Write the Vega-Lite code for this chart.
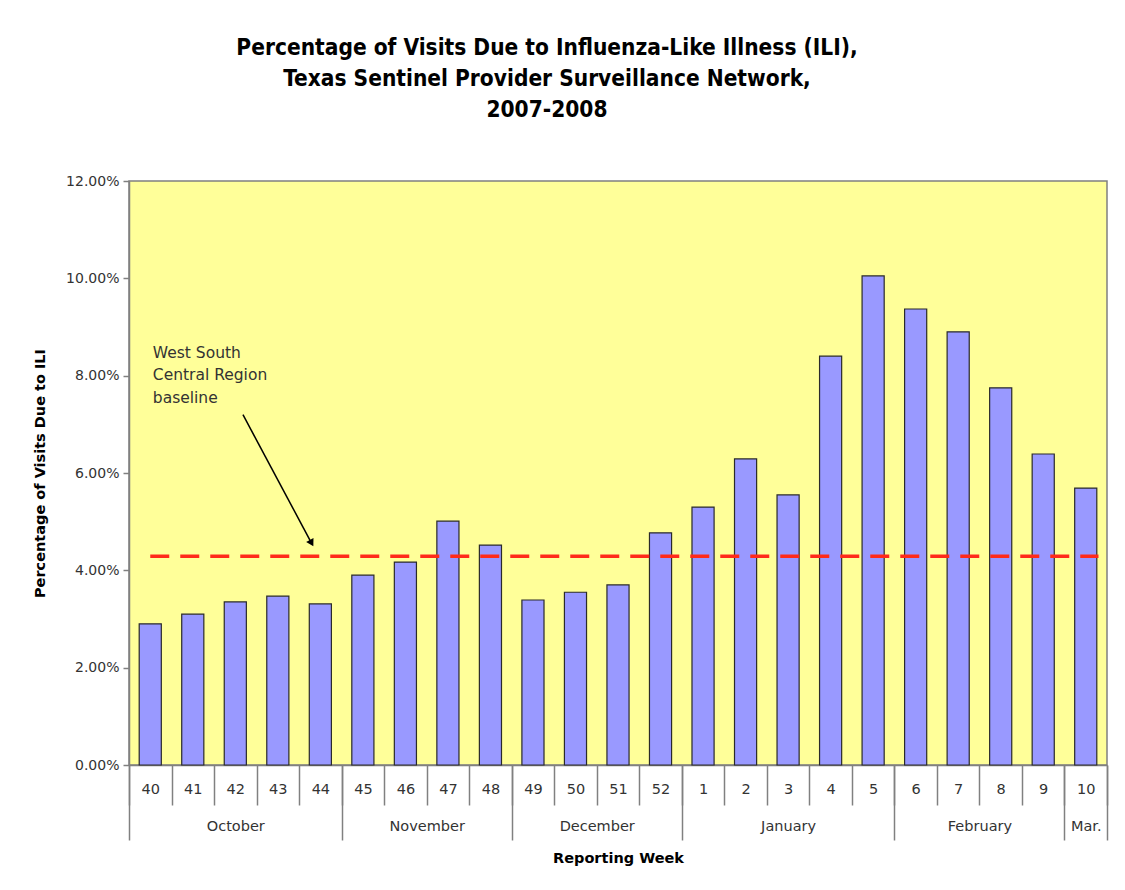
{
  "$schema": "https://vega.github.io/schema/vega-lite/v6.json",
  "width": 978,
  "height": 584,
  "autosize": {"type": "none"},
  "padding": {"left": 129, "top": 181, "right": 18, "bottom": 125},
  "background": "white",
  "title": {
    "text": ["Percentage of Visits Due to Influenza-Like Illness (ILI),", "Texas Sentinel Provider Surveillance Network,", "2007-2008"],
    "font": "DejaVu Sans Condensed",
    "fontSize": 22.5,
    "fontWeight": "bold",
    "lineHeight": 31,
    "anchor": "middle",
    "dx": -71,
    "offset": 53,
    "color": "#000000"
  },
  "config": {
    "view": {"fill": "#FFFF99", "stroke": "#808080", "strokeWidth": 1.5},
    "font": "DejaVu Sans"
  },
  "datasets": {
    "weeks": [
      {"week": "40", "ili": 2.90},
      {"week": "41", "ili": 3.10},
      {"week": "42", "ili": 3.35},
      {"week": "43", "ili": 3.47},
      {"week": "44", "ili": 3.31},
      {"week": "45", "ili": 3.90},
      {"week": "46", "ili": 4.17},
      {"week": "47", "ili": 5.01},
      {"week": "48", "ili": 4.52},
      {"week": "49", "ili": 3.39},
      {"week": "50", "ili": 3.55},
      {"week": "51", "ili": 3.70},
      {"week": "52", "ili": 4.77},
      {"week": "1", "ili": 5.30},
      {"week": "2", "ili": 6.29},
      {"week": "3", "ili": 5.55},
      {"week": "4", "ili": 8.40},
      {"week": "5", "ili": 10.05},
      {"week": "6", "ili": 9.37},
      {"week": "7", "ili": 8.90},
      {"week": "8", "ili": 7.75},
      {"week": "9", "ili": 6.39},
      {"week": "10", "ili": 5.69}
    ],
    "baseline": [
      {"name": "West South Central Region baseline", "from": 0.5, "to": 22.8, "value": 4.29}
    ],
    "note": [
      {"text": ["West South", "Central Region", "baseline"], "x": 0.56, "y": 8.47, "ax": 2.68, "ay": 7.2, "bx": 4.28, "by": 4.58}
    ]
  },
  "layer": [
    {
      "data": {"name": "weeks"},
      "mark": {"type": "bar", "fill": "#9999FF", "stroke": "#2a2a2a", "strokeWidth": 1.2, "width": {"band": 0.52}},
      "encoding": {
        "x": {
          "field": "week",
          "type": "nominal",
          "sort": null,
          "scale": {"paddingInner": 0, "paddingOuter": 0},
          "axis": {
            "orient": "bottom",
            "title": null,
            "labelAngle": 0,
            "tickBand": "extent",
            "tickSize": 40,
            "tickColor": "#808080",
            "tickWidth": 1.5,
            "domainColor": "#808080",
            "domainWidth": 1.5,
            "labelPadding": -23,
            "labelFontSize": 14.5,
            "labelColor": "#333333",
            "labelFont": "DejaVu Sans"
          }
        },
        "y": {
          "field": "ili",
          "type": "quantitative",
          "scale": {"domain": [0, 12]},
          "axis": {
            "orient": "left",
            "title": "Percentage of Visits Due to ILI",
            "titleFont": "DejaVu Sans",
            "titleFontSize": 14.5,
            "titleFontWeight": "bold",
            "titleColor": "#000000",
            "titlePadding": 18,
            "values": [0, 2, 4, 6, 8, 10, 12],
            "labelExpr": "format(datum.value, '.2f') + '%'",
            "labelFont": "DejaVu Sans",
            "labelFontSize": 14,
            "labelColor": "#333333",
            "labelPadding": 4,
            "tickSize": 6,
            "tickColor": "#808080",
            "tickWidth": 1.5,
            "domainColor": "#808080",
            "domainWidth": 1.5,
            "grid": false
          }
        }
      }
    },
    {
      "layer": [
        {
          "data": {"name": "baseline"},
          "mark": {"type": "rule", "color": "#FF2A1A", "strokeWidth": 3.5, "strokeDash": [19, 11]},
          "encoding": {
            "x": {
              "field": "from",
              "type": "quantitative",
              "scale": {"domain": [0, 23], "nice": false, "zero": false},
              "axis": {
                "orient": "bottom",
                "values": [0, 5, 9, 13, 18, 22, 23],
                "labels": false,
                "domain": false,
                "grid": false,
                "tickSize": 75,
                "tickColor": "#808080",
                "tickWidth": 1.5,
                "title": "Reporting Week",
                "titleFont": "DejaVu Sans",
                "titleFontSize": 14.5,
                "titleFontWeight": "bold",
                "titleColor": "#000000",
                "titlePadding": 11
              }
            },
            "x2": {"field": "to"},
            "y": {"field": "value", "type": "quantitative", "scale": {"domain": [0, 12]}, "axis": null}
          }
        },
        {
          "data": {"name": "note"},
          "mark": {"type": "text", "align": "left", "baseline": "middle", "fontSize": 15.5, "lineHeight": 22.5, "color": "#333333", "font": "DejaVu Sans"},
          "encoding": {
            "x": {"field": "x", "type": "quantitative"},
            "y": {"field": "y", "type": "quantitative", "axis": null},
            "text": {"field": "text"}
          }
        },
        {
          "data": {"name": "note"},
          "mark": {"type": "rule", "color": "#000000", "strokeWidth": 1.5},
          "encoding": {
            "x": {"field": "ax", "type": "quantitative"},
            "y": {"field": "ay", "type": "quantitative", "axis": null},
            "x2": {"field": "bx"},
            "y2": {"field": "by"}
          }
        },
        {
          "data": {"name": "note"},
          "mark": {"type": "point", "shape": "triangle", "filled": true, "color": "#000000", "size": 70, "angle": 151, "opacity": 1},
          "encoding": {
            "x": {"field": "bx", "type": "quantitative"},
            "y": {"field": "by", "type": "quantitative", "axis": null}
          }
        }
      ]
    },
    {
      "data": {"values": [
        {"month": "October", "mid": 2.5},
        {"month": "November", "mid": 7},
        {"month": "December", "mid": 11},
        {"month": "January", "mid": 15.5},
        {"month": "February", "mid": 20},
        {"month": "Mar.", "mid": 22.5}
      ]},
      "mark": {"type": "tick", "opacity": 0},
      "encoding": {
        "x": {
          "field": "mid",
          "type": "quantitative",
          "scale": {"domain": [0, 23], "nice": false, "zero": false},
          "axis": {
            "orient": "bottom",
            "values": [2.5, 7, 11, 15.5, 20, 22.5],
            "labelExpr": "datum.value == 2.5 ? 'October' : datum.value == 7 ? 'November' : datum.value == 11 ? 'December' : datum.value == 15.5 ? 'January' : datum.value == 20 ? 'February' : 'Mar.'",
            "ticks": false,
            "domain": false,
            "grid": false,
            "title": null,
            "labelPadding": 54,
            "labelFontSize": 14.5,
            "labelColor": "#333333",
            "labelFont": "DejaVu Sans"
          }
        },
        "y": {"datum": 0, "type": "quantitative", "scale": {"domain": [0, 12]}, "axis": null}
      }
    }
  ],
  "resolve": {"scale": {"x": "independent"}, "axis": {"x": "independent", "y": "independent"}}
}
